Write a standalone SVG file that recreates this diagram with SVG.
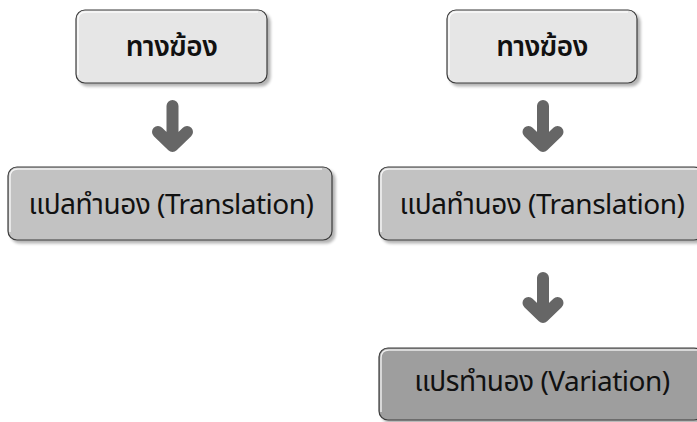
<svg xmlns="http://www.w3.org/2000/svg" width="697" height="422" viewBox="0 0 697 422">
<defs>
<filter id="sh" x="-10%" y="-20%" width="130%" height="150%">
<feGaussianBlur in="SourceAlpha" stdDeviation="1.5"/>
<feOffset dx="3" dy="3" result="b"/>
<feComponentTransfer><feFuncA type="linear" slope="0.3"/></feComponentTransfer>
<feMerge><feMergeNode/><feMergeNode in="SourceGraphic"/></feMerge>
</filter>
</defs>
<style>
.box{stroke:#3a3a3a;stroke-width:1.2;filter:url(#sh)}
.hl{fill:none;stroke:#ffffff;stroke-width:1.5;opacity:0.8}
.l1{fill:#e6e6e6}
.l2{fill:#c2c2c2}
.l3{fill:#9e9e9e}
text{font-family:"Noto Sans Thai","Noto Sans","DejaVu Sans",sans-serif;font-size:28px;fill:#111;text-anchor:middle;letter-spacing:-0.5px}
.b{font-weight:600;letter-spacing:-0.5px}
.arr{fill:none;stroke:#666666;stroke-width:12;stroke-linecap:round;stroke-linejoin:round}
</style>
<g id="connectors">
<path class="arr" d="M172.5,106 V145 M158,132 L172.5,146 L187,132"/>
<path class="arr" d="M543,106 V145 M528.5,132 L543,146 L557.5,132"/>
<path class="arr" d="M543,278 V316 M528.5,303 L543,317 L557.5,303"/>
</g>
<g id="n1">
<rect class="box l1" x="76" y="10" width="191" height="73" rx="9"/>
<path class="hl" d="M78,75 V20 Q78,12 86,12 H258"/>
<text class="b" x="171.5" y="56">ทางฆ้อง</text>
</g>
<g id="n2">
<rect class="box l2" x="8" y="167" width="324" height="73" rx="9"/>
<path class="hl" d="M10,232 V177 Q10,169 18,169 H322"/>
<text x="171" y="214">แปลทำนอง (Translation)</text>
</g>
<g id="n3">
<rect class="box l1" x="447" y="10" width="190" height="73" rx="9"/>
<path class="hl" d="M449,75 V20 Q449,12 457,12 H628"/>
<text class="b" x="542" y="56">ทางฆ้อง</text>
</g>
<g id="n4">
<rect class="box l2" x="379" y="167" width="324" height="73" rx="9"/>
<path class="hl" d="M381,232 V177 Q381,169 389,169 H697"/>
<text x="542" y="214">แปลทำนอง (Translation)</text>
</g>
<g id="n5">
<rect class="box l3" x="379" y="348" width="324" height="72" rx="9"/>
<path class="hl" d="M381,412 V358 Q381,350 389,350 H697"/>
<text x="542" y="391">แปรทำนอง (Variation)</text>
</g>
</svg>
